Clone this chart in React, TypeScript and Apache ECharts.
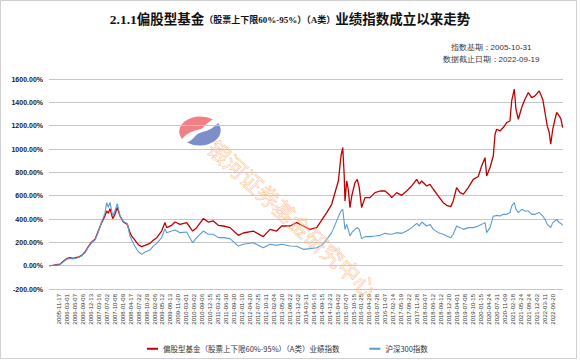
import { useEffect, useRef } from 'react';
import * as echarts from 'echarts';

// x-axis tick labels (every ~65 trading days)
const dateLabels = [
  '2005-11-17', '2006-03-01', '2006-06-07', '2006-09-06', '2006-12-13', '2007-03-16', '2007-07-02',
  '2007-10-08', '2008-01-09', '2008-04-17', '2008-07-22', '2008-10-29', '2009-02-06', '2009-05-12',
  '2009-08-13', '2009-11-20', '2010-03-01', '2010-06-02', '2010-09-06', '2010-12-15', '2011-03-25',
  '2011-06-30', '2011-09-30', '2012-01-10', '2012-04-20', '2012-07-25', '2012-10-31', '2013-02-04',
  '2013-05-20', '2013-08-22', '2013-12-02', '2014-03-11', '2014-06-16', '2014-09-15', '2014-12-23',
  '2015-04-02', '2015-07-07', '2015-10-15', '2016-01-25', '2016-04-29', '2016-07-28', '2016-11-07',
  '2017-02-14', '2017-05-19', '2017-08-22', '2017-11-28', '2018-03-07', '2018-06-12', '2018-09-12',
  '2018-12-20', '2019-04-01', '2019-07-08', '2019-10-15', '2020-01-15', '2020-04-24', '2020-07-31',
  '2020-11-09', '2021-02-18', '2021-05-24', '2021-08-24', '2021-12-02', '2022-03-11', '2022-06-20',
];

// trading-day index since base date 2005-10-31 (last day 2022-09-19)
const totalTradingDays = 4107;
const tradingDay = [
  0, 32, 64, 88, 112, 141, 168, 192, 221, 240,
  261, 288, 314, 341, 368, 394, 421, 447, 461, 474,
  487, 509, 527, 546, 567, 594, 626, 647, 661, 679,
  701, 719, 741, 767, 807, 831, 861, 900, 927, 940,
  980, 1007, 1047, 1100, 1148, 1180, 1233, 1273, 1313, 1353,
  1393, 1446, 1513, 1552, 1632, 1712, 1766, 1819, 1859, 1926,
  1979, 2032, 2085, 2139, 2179, 2219, 2259, 2293, 2312, 2333,
  2347, 2359, 2365, 2379, 2391, 2405, 2419, 2445, 2463, 2479,
  2498, 2525, 2565, 2605, 2645, 2685, 2725, 2738, 2778, 2818,
  2858, 2898, 2938, 2959, 2978, 3018, 3044, 3071, 3111, 3150,
  3178, 3210, 3230, 3257, 3284, 3310, 3350, 3390, 3430, 3457,
  3484, 3497, 3524, 3550, 3564, 3577, 3603, 3630, 3657, 3683,
  3697, 3718, 3731, 3750, 3777, 3803, 3830, 3857, 3883, 3917,
  3945, 3963, 3981, 3997, 4009, 4025, 4043, 4057, 4077, 4091,
  4104,
];

// cumulative return, %
const fundIndex = [
  0, 3, 8, 12, 35, 60, 68, 62, 70, 75,
  88, 117, 163, 203, 226, 297, 369, 426, 468, 450,
  489, 403, 440, 498, 426, 374, 354, 283, 254, 230,
  197, 175, 163, 174, 191, 215, 240, 297, 369, 326,
  346, 374, 354, 369, 297, 326, 403, 374, 383, 346,
  340, 326, 260, 280, 297, 249, 311, 297, 340, 340,
  369, 340, 311, 326, 391, 455, 526, 655, 726, 940,
  1012, 769, 554, 726, 655, 498, 597, 712, 740, 669,
  498, 583, 583, 626, 640, 640, 603, 583, 626, 603,
  640, 683, 740, 700, 726, 683, 697, 655, 597, 540,
  517, 506, 555, 669, 626, 612, 669, 740, 764, 855,
  926, 769, 841, 940, 1127, 1169, 1155, 1184, 1227, 1240,
  1412, 1513, 1341, 1255, 1356, 1427, 1484, 1441, 1455, 1498,
  1427, 1313, 1198, 1141, 1041, 1169, 1255, 1313, 1284, 1255,
  1184,
];

const csi300 = [
  0, 3, 6, 10, 30, 55, 62, 58, 66, 72,
  85, 112, 158, 198, 220, 290, 375, 450, 540, 500,
  543, 426, 470, 532, 426, 380, 360, 254, 220, 180,
  140, 115, 97, 117, 134, 165, 191, 240, 317, 283,
  297, 306, 283, 289, 197, 240, 297, 269, 269, 240,
  240, 232, 168, 183, 197, 154, 183, 174, 183, 168,
  166, 140, 146, 154, 174, 226, 283, 369, 420, 468,
  483, 369, 311, 354, 311, 254, 283, 311, 326, 311,
  232, 249, 249, 254, 260, 277, 269, 269, 283, 277,
  297, 326, 363, 340, 374, 340, 354, 311, 283, 269,
  254, 240, 269, 340, 326, 311, 326, 326, 340, 354,
  369, 283, 326, 426, 426, 431, 426, 440, 440, 455,
  511, 540, 483, 455, 483, 469, 469, 440, 440, 455,
  426, 397, 354, 340, 326, 369, 383, 397, 369, 363,
  346,
];

const fundName = '偏股型基金（股票上下限60%-95%）（A类）业绩指数';
const csiName = '沪深300指数';

const LOGO_RED = 'M-18 11 A21 21 0 0 1 13 -16 C5 -11 5 -4 -1 -2 C-7 0 -12 2 -18 11 Z';
const LOGO_BLUE = 'M18 -11 A21 21 0 0 1 -13 16 C-5 11 -5 4 1 2 C7 0 12 -2 18 -11 Z';

export default function App() {
  const ref = useRef<HTMLDivElement>(null);

  useEffect(() => {
    if (!ref.current) return;
    echarts.graphic.registerShape('logoRed', echarts.graphic.extendPath(LOGO_RED, {}));
    echarts.graphic.registerShape('logoBlue', echarts.graphic.extendPath(LOGO_BLUE, {}));
    const chart = echarts.init(ref.current, null, { renderer: 'svg' });

    const cjk = '"Noto Sans CJK SC", sans-serif';
    const option: any = {
      animation: false,
      backgroundColor: '#ffffff',
      title: {
        text: '{a|2.1.1偏股型基金}{b|（股票上下限60%-95%）（A类）}{a|业绩指数成立以来走势}',
        left: 'center',
        top: 8,
        textStyle: {
          rich: {
            a: { fontSize: 13.5, fontWeight: 'bold', color: '#111', fontFamily: '"Liberation Serif", "Noto Sans CJK SC", serif' },
            b: { fontSize: 9, fontWeight: 'bold', color: '#111', fontFamily: '"Liberation Serif", "Noto Sans CJK SC", serif' },
          },
        },
      },
      legend: {
        left: 142,
        top: 340,
        icon: 'rect',
        itemWidth: 11,
        itemHeight: 2,
        itemGap: 30,
        data: [fundName, csiName],
        textStyle: { fontSize: 7.5, color: '#333', fontFamily: cjk },
      },
      grid: [
        { left: 49, right: 17, top: 79, bottom: 71 },
        { left: 59, right: 27.5, top: 79, bottom: 71 },
      ],
      xAxis: [
        {
          type: 'value',
          gridIndex: 0,
          min: 0,
          max: totalTradingDays,
          show: false,
        },
        {
          type: 'category',
          gridIndex: 1,
          data: dateLabels,
          boundaryGap: false,
          axisLine: { show: false },
          axisTick: { show: false },
          splitLine: { show: false },
          axisLabel: {
            interval: 0,
            rotate: 90,
            fontSize: 6,
            margin: 5,
            color: '#333',
            fontFamily: '"Liberation Sans", sans-serif',
            hideOverlap: false,
          },
        },
      ],
      yAxis: [
        {
          type: 'value',
          gridIndex: 0,
          min: -200,
          max: 1600,
          interval: 200,
          axisLine: { show: false },
          axisTick: { show: false },
          splitLine: { lineStyle: { color: '#c6c6c6', width: 1 } },
          axisLabel: {
            formatter: (v: number) => `${v.toFixed(2)}%`,
            fontSize: 7,
            fontWeight: 'bold',
            margin: 6,
            color: '#222',
            fontFamily: '"Liberation Sans", sans-serif',
          },
        },
        { type: 'value', gridIndex: 1, show: false },
      ],
      series: [
        {
          name: fundName,
          type: 'line',
          xAxisIndex: 0,
          yAxisIndex: 0,
          showSymbol: false,
          data: tradingDay.map((d, i) => [d, fundIndex[i]]),
          lineStyle: { color: '#c00000', width: 1.3 },
          itemStyle: { color: '#c00000' },
        },
        {
          name: csiName,
          type: 'line',
          xAxisIndex: 0,
          yAxisIndex: 0,
          showSymbol: false,
          data: tradingDay.map((d, i) => [d, csi300[i]]),
          lineStyle: { color: '#5b9bd5', width: 1.1 },
          itemStyle: { color: '#5b9bd5' },
        },
      ],
      graphic: [
        {
          type: 'rect',
          silent: true,
          shape: { x: 0.5, y: 0.5, width: 576, height: 358 },
          style: { fill: 'none', stroke: '#d0d0d0', lineWidth: 1 },
        },
        {
          type: 'text',
          x: 491,
          y: 47,
          style: { text: '指数基期：2005-10-31', fontSize: 8, fill: '#333', font: `8px ${cjk}`, align: 'center', verticalAlign: 'middle' },
        },
        {
          type: 'text',
          x: 491,
          y: 59,
          style: { text: '数据截止日期：2022-09-19', fontSize: 8, fill: '#333', font: `8px ${cjk}`, align: 'center', verticalAlign: 'middle' },
        },
        {
          type: 'logoRed',
          x: 200,
          y: 131,
          scaleX: 1,
          scaleY: 0.72,
          silent: true,
          style: { fill: '#f07f86' },
        },
        {
          type: 'logoBlue',
          x: 200,
          y: 131,
          scaleX: 1,
          scaleY: 0.72,
          silent: true,
          style: { fill: '#7d8fca' },
        },
        {
          type: 'text',
          x: 293,
          y: 218,
          rotation: -0.74,
          silent: true,
          z: 100,
          style: {
            text: '银河证券基金研究中心',
            font: `22px ${cjk}`,
            fill: 'rgba(255,225,195,0.25)',
            stroke: 'rgba(247,165,95,0.8)',
            lineWidth: 0.5,
            align: 'center',
            verticalAlign: 'middle',
          },
        },
      ],
    };

    chart.setOption(option);
    return () => chart.dispose();
  }, []);

  return (
    <div
      ref={ref}
      style={{ position: 'fixed', left: 0, top: 0, width: 580, height: 360, background: '#fff' }}
    />
  );
}
